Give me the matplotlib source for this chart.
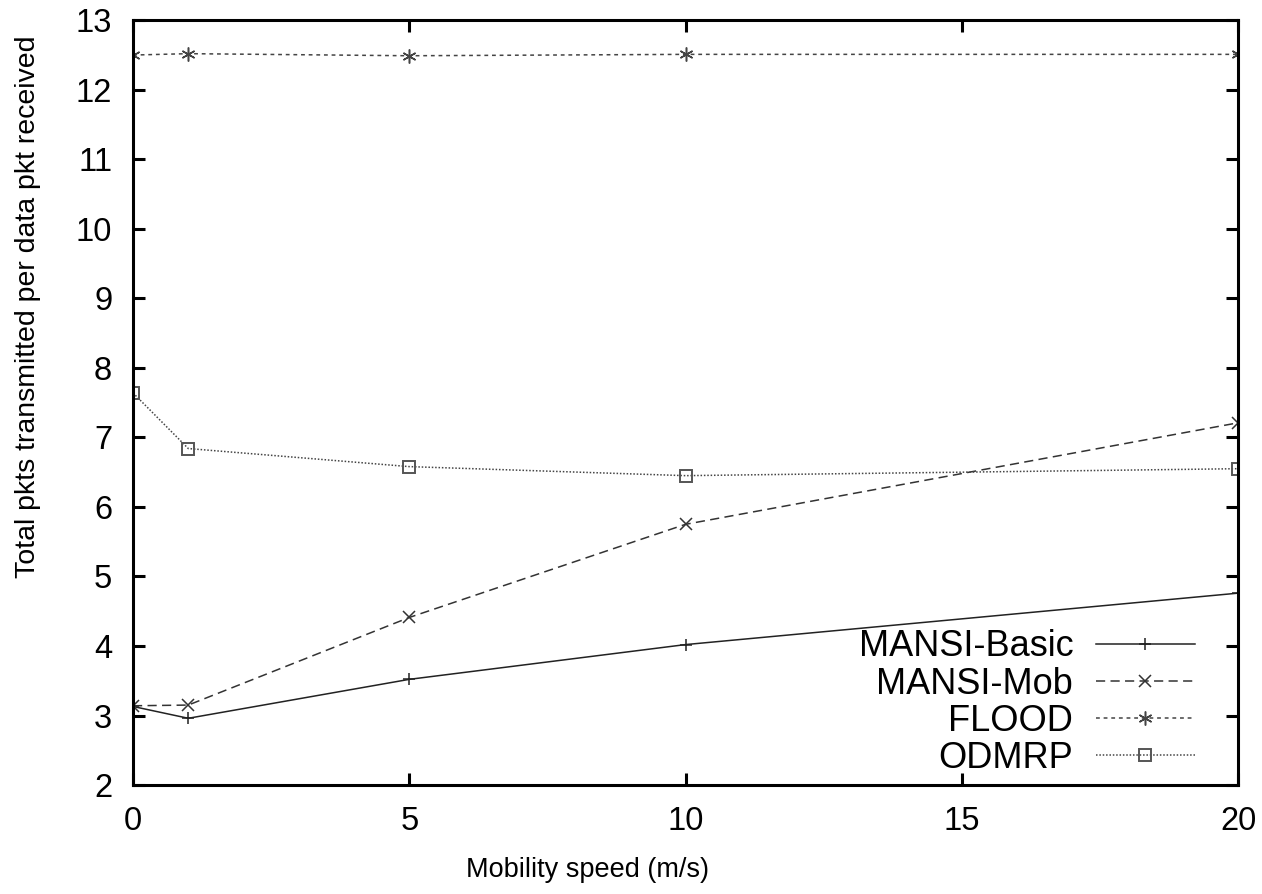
import matplotlib
matplotlib.use("Agg")
import matplotlib.pyplot as plt

plt.rcParams['font.family'] = ['Liberation Sans', 'DejaVu Sans']

# --------------------------------------------------
# data
# --------------------------------------------------
speed = [0, 1, 5, 10, 20]
mansi_basic = [3.13, 2.96, 3.52, 4.02, 4.76]
mansi_mob = [3.14, 3.15, 4.41, 5.75, 7.21]
flood = [12.50, 12.52, 12.49, 12.51, 12.51]
odmrp = [7.64, 6.84, 6.58, 6.45, 6.55]

x_ticks = [0, 5, 10, 15, 20]
y_ticks = list(range(2, 14))

# --------------------------------------------------
# figure
# --------------------------------------------------
fig = plt.figure(figsize=(12.62, 8.94), dpi=100)
ax = fig.add_axes([0.1054, 0.1219, 0.8756, 0.8554])

ax.plot(speed, mansi_basic, color="#222222", lw=1.1, marker="+", ms=9,
        mew=1.1, label="MANSI-Basic")
ax.plot(speed, mansi_mob, color="#333333", lw=1.1, dashes=(6, 3.5),
        marker="x", ms=9, mew=1.1, label="MANSI-Mob")
ax.plot(speed, flood, color="#444444", lw=1.1, dashes=(2.5, 2.5),
        marker=(6, 2, 0), ms=10, mew=1.1, label="FLOOD")
ax.plot(speed, odmrp, color="#444444", lw=1.1, dashes=(1, 1.2),
        marker="s", ms=8.5, mfc="none", mec="#555555", mew=1.4,
        label="ODMRP")

ax.set_xlim(0, 20)
ax.set_ylim(2, 13)
ax.set_xticks(x_ticks)
ax.set_yticks(y_ticks)

for s in ax.spines.values():
    s.set_linewidth(2.2)
ax.tick_params(direction="in", length=8.5, width=2.2, top=True, right=True,
               labelsize=23.5, pad=15)

ax.set_xlabel("Mobility speed (m/s)", fontsize=19.5)
ax.set_ylabel("Total pkts transmitted per data pkt received", fontsize=20.5)
ax.xaxis.set_label_coords(0.411, -0.094)
ax.yaxis.set_label_coords(-0.083, 0.625)

leg = ax.legend(loc="lower right", bbox_to_anchor=(0.961, 0.012),
                frameon=False, markerfirst=False, fontsize=26,
                handlelength=2.75, handletextpad=0.62, labelspacing=0.06,
                borderpad=0, borderaxespad=0)

fig.savefig("out.png", dpi=100)
